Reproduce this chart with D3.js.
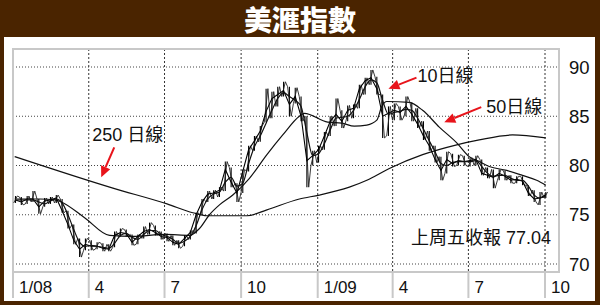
<!DOCTYPE html>
<meta charset="utf-8">
<style>
body { margin: 0; background: #fff; }
svg text { font-family: "Liberation Sans", Arial, "Noto Sans CJK TC", sans-serif; }
</style>
<body>
<script src="https://d3js.org/d3.v7.min.js"></script>
<script>
// weekly bars of the dollar index, Fridays from 4 Jan 2008 to 2 Oct 2009
var hi = [76.9,76.8,76.9,77.4,76.6,76.7,76.8,77.0,76.6,75.4,74.0,72.6,72.6,72.4,72.2,72.1,72.0,73.3,73.6,73.5,
  73.0,73.0,73.8,74.2,73.9,73.3,73.1,72.9,72.4,72.9,73.4,75.2,76.6,77.4,77.5,77.8,80.4,79.8,78.2,79.6,
  82.0,83.0,84.0,87.8,87.5,88.0,88.5,88.0,87.9,87.0,85.0,81.5,82.0,83.4,85.0,86.8,85.6,86.1,86.2,88.2,
  88.9,89.7,89.0,87.2,86.0,86.3,86.0,87.0,86.4,85.8,84.5,83.5,82.0,80.9,81.4,81.2,81.1,81.0,80.8,81.0,
  80.6,79.8,79.6,79.6,79.5,79.0,78.9,78.9,78.0,77.5,77.3,77.3];
var lo = [76.2,76.0,76.1,76.3,75.1,75.8,76.1,76.2,75.2,73.6,72.0,70.7,71.4,71.4,71.5,71.3,71.3,71.7,72.8,72.8,
  71.9,72.0,72.6,73.0,72.9,72.5,72.3,71.9,71.6,71.8,72.5,73.1,75.0,76.3,76.6,76.8,77.4,77.8,76.3,77.2,
  79.4,81.5,82.4,84.4,84.8,86.0,87.0,85.0,86.3,84.5,77.8,80.0,80.3,81.6,83.0,84.0,83.8,84.5,84.8,85.8,
  87.2,88.2,87.2,82.8,83.0,84.6,84.6,85.0,84.5,83.8,82.6,81.5,80.3,78.5,79.2,79.9,80.0,80.0,79.9,80.0,
  79.0,78.7,77.7,78.5,78.5,78.2,78.2,78.0,76.9,76.3,76.0,76.7];
var cl = [76.5,76.3,76.6,76.6,75.8,76.4,76.5,76.7,75.4,74.0,72.4,71.5,72.0,71.8,71.8,71.6,71.5,72.9,73.2,73.1,
  72.2,72.8,73.3,73.5,73.2,72.8,72.7,72.2,72.0,72.6,73.2,75.0,76.3,77.1,77.2,77.5,79.6,78.3,77.2,79.4,
  81.6,82.5,83.5,85.5,86.8,87.2,87.6,86.2,87.0,85.0,80.5,81.0,81.6,83.0,84.5,85.2,84.5,85.6,85.8,87.8,
  88.6,88.9,87.8,85.0,85.3,85.6,85.4,86.0,85.2,84.2,83.0,82.0,80.6,79.5,80.6,80.2,80.5,80.4,80.5,80.6,
  79.2,79.0,78.8,79.2,78.9,78.5,78.6,78.4,77.2,76.6,76.7,77.04];
var ma10 = [76.5,76.5,76.5,76.5,76.3,76.1,76.4,76.6,76.2,75.0,73.5,72.2,71.8,71.9,71.8,71.7,71.6,72.1,72.9,73.1,
  72.7,72.5,73.0,73.4,73.4,73.0,72.8,72.5,72.1,72.3,72.8,73.9,75.5,76.6,77.1,77.3,78.3,78.8,77.9,78.2,
  80.2,81.9,83.0,84.3,85.6,86.8,87.4,87.0,86.6,86.0,83.3,81.0,81.2,82.2,83.6,84.8,84.9,85.0,85.6,86.7,
  88.0,88.7,88.4,86.6,85.2,85.4,85.5,85.7,85.6,84.8,83.7,82.5,81.4,80.2,80.0,80.3,80.4,80.4,80.4,80.5,
  79.9,79.2,78.9,79.0,79.0,78.7,78.5,78.5,77.9,77.0,76.7,76.9];

var ma50Dates = ["2008-01-03","2008-02-02","2008-02-21","2008-02-28","2008-03-27","2008-04-26","2008-05-24",
  "2008-07-02","2008-07-31","2008-08-12","2008-08-24","2008-09-05","2008-09-21","2008-10-11","2008-11-01",
  "2008-11-20","2008-12-10","2008-12-16","2009-01-13","2009-01-30","2009-02-14","2009-03-01","2009-03-13",
  "2009-03-19","2009-03-25","2009-04-21","2009-05-07","2009-05-27","2009-06-17","2009-07-02","2009-07-14",
  "2009-07-26","2009-08-16","2009-09-04","2009-09-21","2009-10-02"];
var ma50 = [76.6,76.6,76.5,76.3,74.7,72.9,72.8,73.0,72.9,73.6,75.0,76.0,77.0,78.7,81.1,83.1,85.0,85.3,84.4,
  84.3,84.0,84.1,84.6,86.0,86.5,86.4,85.6,83.9,82.3,80.9,80.4,79.9,79.5,79.0,78.5,78.0];

var ma250Dates = ["2008-01-03","2008-04-30","2008-07-04","2008-08-04","2008-08-21","2008-10-08","2008-11-01",
  "2008-12-10","2009-01-03","2009-02-08","2009-03-01","2009-03-28","2009-05-07","2009-06-17","2009-07-14",
  "2009-08-23","2009-10-02"];
var ma250 = [80.9,77.7,76.1,75.2,74.9,74.9,75.5,76.6,77.0,77.8,78.5,79.7,81.1,82.1,82.6,83.1,82.8];

var tickDates = ["2008-01-01","2008-04-01","2008-07-01","2008-10-01","2009-01-01","2009-04-01","2009-07-01","2009-10-01"];
var tickLabels = ["1/08","4","7","10","1/09","4","7","10"];
var yTicks = [70, 75, 80, 85, 90];

var W = 600, H = 305;
var box = {left: 13, right: 559, top: 49, bottom: 272};
var parse = d3.utcParse("%Y-%m-%d");

var x = d3.scaleUtc()
  .domain([parse("2008-01-01"), parse("2009-10-01")])
  .range([13, 545]);
var y = d3.scaleLinear().domain([70, 90]).range([264, 67]);

var weeks = d3.utcFriday.range(parse("2008-01-04"), parse("2009-10-03"));

var svg = d3.select("body").append("svg").attr("width", W).attr("height", H);

// brown frame and title band
svg.append("rect").attr("width", W).attr("height", H).attr("fill", "#4a2400");
svg.append("rect").attr("x", 4).attr("y", 37).attr("width", 591).attr("height", 264).attr("fill", "#fff");
svg.append("text").attr("x", 300).attr("y", 31).attr("text-anchor", "middle")
  .style("font-family", "'Noto Sans CJK TC', sans-serif").style("font-weight", 900)
  .style("font-size", "28px").attr("fill", "#fff").text("美滙指數");

// grid
svg.append("g").selectAll("line").data(yTicks).join("line")
  .attr("x1", box.left).attr("x2", box.right)
  .attr("y1", d => y(d)).attr("y2", d => y(d))
  .attr("stroke", "#444").attr("stroke-width", 1).attr("stroke-dasharray", "1,2");
svg.append("g").selectAll("line").data(tickDates.slice(1)).join("line")
  .attr("x1", d => x(parse(d))).attr("x2", d => x(parse(d)))
  .attr("y1", box.top).attr("y2", box.bottom)
  .attr("stroke", "#333").attr("stroke-width", 1).attr("stroke-dasharray", "2,2");

// plot frame and x axis cells
svg.append("rect").attr("x", box.left).attr("y", box.top)
  .attr("width", box.right - box.left).attr("height", box.bottom - box.top)
  .attr("fill", "none").attr("stroke", "#c8c8c8").attr("stroke-width", 2);
svg.append("g").selectAll("line").data(tickDates).join("line")
  .attr("x1", (d, i) => i ? x(parse(d)) : box.left).attr("x2", (d, i) => i ? x(parse(d)) : box.left)
  .attr("y1", box.bottom).attr("y2", 298)
  .attr("stroke", "#c8c8c8").attr("stroke-width", 2);
svg.append("g").selectAll("text").data(tickDates).join("text")
  .attr("x", d => x(parse(d)) + 6).attr("y", 293)
  .style("font-size", "17px").attr("fill", "#111")
  .text((d, i) => tickLabels[i]);
svg.append("g").selectAll("text").data(yTicks).join("text")
  .attr("x", 569).attr("y", d => y(d) + 6.5)
  .style("font-size", "18.5px").attr("fill", "#111").text(d => d);

// moving averages
var line = d3.line().curve(d3.curveMonotoneX);
svg.append("path")
  .attr("d", line(ma250.map((v, i) => [x(parse(ma250Dates[i])), y(v)])))
  .attr("fill", "none").attr("stroke", "#111").attr("stroke-width", 1.2);
svg.append("path")
  .attr("d", line(ma50.map((v, i) => [x(parse(ma50Dates[i])), y(v)])))
  .attr("fill", "none").attr("stroke", "#111").attr("stroke-width", 1.2);

// price: high-low bars, a zigzag through each week's range, and the closes
svg.append("g").selectAll("line").data(weeks).join("line")
  .attr("x1", d => x(d)).attr("x2", d => x(d))
  .attr("y1", (d, i) => y(hi[i])).attr("y2", (d, i) => y(lo[i]))
  .attr("stroke", "#000").attr("stroke-width", 1.1);
var zig = [];
weeks.forEach(function(d, i) {
  var up = i === 0 || cl[i] >= cl[i - 1];
  var a = up ? lo[i] : hi[i], b = up ? hi[i] : lo[i];
  zig.push([x(d) - 1.8, y(a)], [x(d) + 1.8, y(b)]);
});
svg.append("path").attr("d", d3.line()(zig))
  .attr("fill", "none").attr("stroke", "#222").attr("stroke-width", 0.9);
svg.append("path")
  .attr("d", d3.line()(cl.map((v, i) => [x(weeks[i]), y(v)])))
  .attr("fill", "none").attr("stroke", "#000").attr("stroke-width", 1.1);
svg.append("path")
  .attr("d", line(ma10.map((v, i) => [x(weeks[i]), y(v)])))
  .attr("fill", "none").attr("stroke", "#111").attr("stroke-width", 1.2);

// annotations: arrow tip at a date/value, label and tail offset in pixels
var notes = [
  {date: "2008-04-16", value: 78.8, text: "250 日線", tx: -9, ty: -36, ax: 13, ay: -30},
  {date: "2009-03-27", value: 87.8, text: "10日線", tx: 29, ty: -7, ax: 28, ay: -11},
  {date: "2009-06-02", value: 84.4, text: "50日線", tx: 42, ty: -9, ax: 37, ay: -15}
];
notes.forEach(function(n) {
  var px = x(parse(n.date)), py = y(n.value);
  var ang = Math.atan2(py - (py + n.ay), px - (px + n.ax));
  var hx = px - 11 * Math.cos(ang), hy = py - 11 * Math.sin(ang);
  svg.append("line").attr("x1", px + n.ax).attr("y1", py + n.ay).attr("x2", hx).attr("y2", hy)
    .attr("stroke", "#e8141b").attr("stroke-width", 2);
  var pts = [[px, py],
    [hx + 5 * Math.sin(ang), hy - 5 * Math.cos(ang)],
    [hx - 5 * Math.sin(ang), hy + 5 * Math.cos(ang)]];
  svg.append("polygon").attr("points", pts.map(p => p.join(",")).join(" ")).attr("fill", "#e8141b");
  svg.append("text").attr("x", px + n.tx).attr("y", py + n.ty)
    .style("font-size", "18px").attr("fill", "#111").text(n.text);
});

svg.append("text").attr("x", 551).attr("y", 244).attr("text-anchor", "end")
  .style("font-size", "18px").attr("fill", "#111").text("上周五收報 77.04");
</script>
</body>
</html>
